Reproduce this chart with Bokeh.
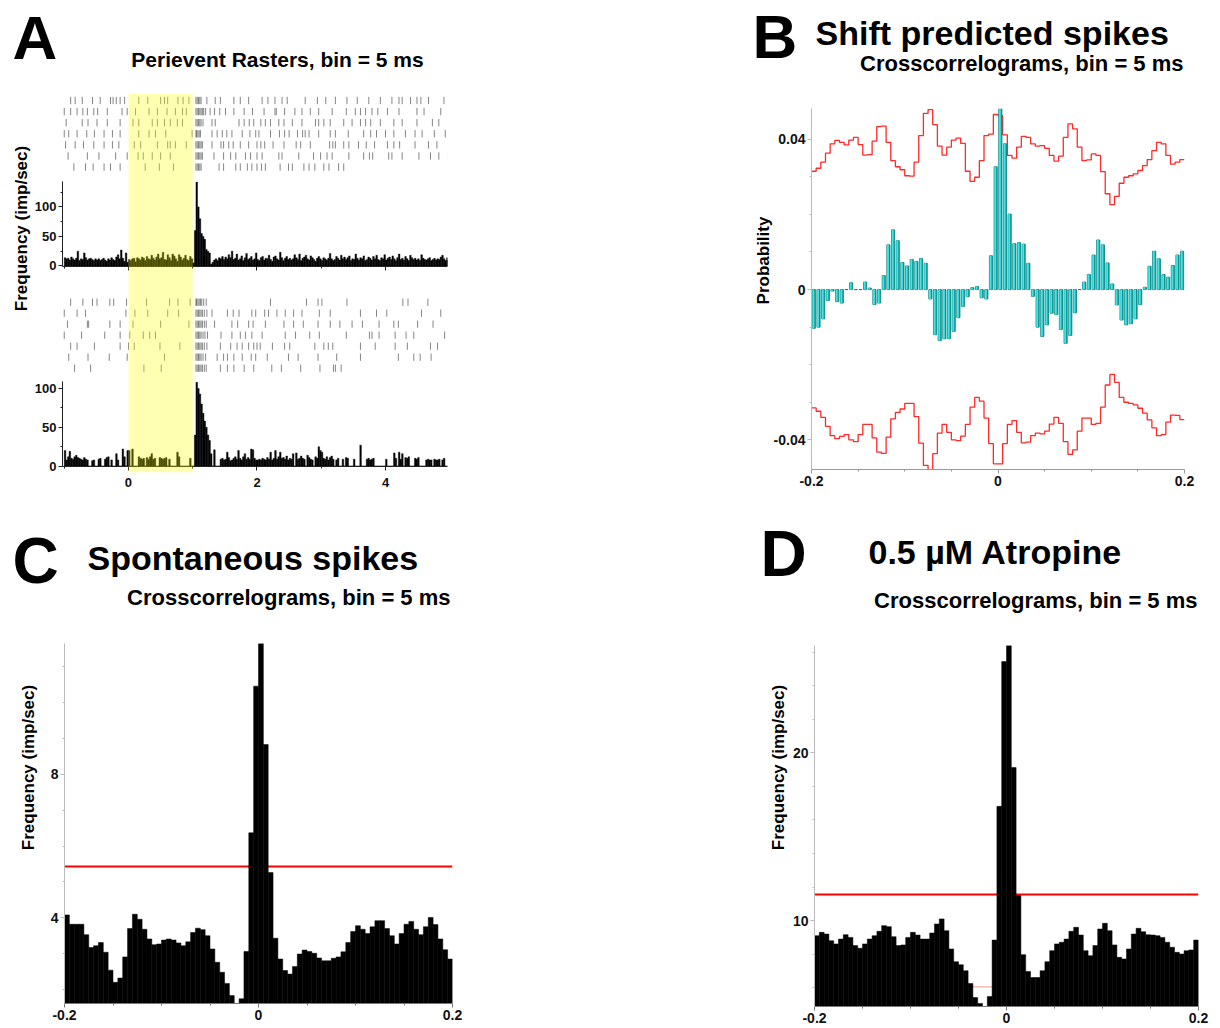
import math
from bokeh.plotting import figure
from bokeh.models import (Range1d, FixedTicker, GridBox, BoxAnnotation, Span,
                          NumeralTickFormatter)
from bokeh.embed import file_html
from bokeh.resources import INLINE
from bokeh.core.properties import value

# ---------------------------------------------------------------- data
# Panel A : perievent rasters (spike times, s) and rate histograms (imp/sec, 25 ms bins from -1 s)
stim_on, stim_off = 0.0, 1.0
hist_start, hist_bin = -1.0, 0.025

r1_trial1 = [-0.90, -0.83, -0.72, -0.56, -0.44, -0.28, -0.24, -0.19, -0.13, -0.06, 0.16, 0.30, 0.50, 0.56, 0.61, 0.77, 0.85, 0.94,
             1.05, 1.07, 1.09, 1.11, 1.13, 1.22, 1.35, 1.43, 1.64, 1.74, 1.87, 2.08, 2.17, 2.28, 2.39, 2.47, 2.75, 2.94, 3.07,
             3.22, 3.40, 3.56, 3.74, 3.92, 4.10, 4.21, 4.26, 4.39, 4.49, 4.55, 4.67, 4.91]
r1_trial2 = [-1.00, -0.90, -0.80, -0.71, -0.64, -0.54, -0.48, -0.33, -0.10, -0.02, 0.11, 0.32, 0.45, 0.60, 0.73, 0.84, 0.90,
             1.05, 1.07, 1.09, 1.11, 1.13, 1.15, 1.17, 1.20, 1.27, 1.34, 1.42, 1.51, 1.64, 1.80, 1.93, 2.11, 2.28, 2.30, 2.43,
             2.59, 2.70, 2.83, 2.96, 3.17, 3.39, 3.53, 3.61, 3.69, 3.79, 3.88, 4.03, 4.21, 4.49, 4.60, 4.86]
r1_trial3 = [-0.97, -0.72, -0.63, -0.49, -0.33, -0.13, 0.07, 0.16, 0.37, 0.45, 0.56, 0.65, 0.76, 0.84, 1.05, 1.07, 1.09, 1.11,
             1.13, 1.16, 1.30, 1.35, 1.72, 1.80, 1.88, 1.95, 2.06, 2.13, 2.21, 2.34, 2.42, 2.55, 2.70, 2.91, 2.96, 3.04, 3.14,
             3.35, 3.48, 3.61, 3.69, 3.77, 3.92, 4.13, 4.26, 4.49, 4.73, 4.83]
r1_trial4 = [-1.00, -0.93, -0.80, -0.65, -0.53, -0.38, -0.25, -0.13, 0.16, 0.32, 0.42, 0.58, 0.99, 1.05, 1.06, 1.08, 1.10, 1.12,
             1.30, 1.38, 1.46, 1.53, 1.61, 1.77, 1.89, 1.98, 2.03, 2.21, 2.35, 2.43, 2.50, 2.63, 2.71, 2.75, 2.81, 2.96, 3.14,
             3.22, 3.42, 3.66, 3.77, 3.86, 4.00, 4.13, 4.31, 4.46, 4.57, 4.76, 4.93]
r1_trial5 = [-0.98, -0.83, -0.70, -0.54, -0.38, -0.25, -0.15, 0.09, 0.19, 0.45, 0.61, 0.65, 0.73, 0.90, 1.05, 1.07, 1.09, 1.11,
             1.13, 1.15, 1.30, 1.44, 1.48, 1.56, 1.63, 1.74, 1.87, 2.00, 2.06, 2.12, 2.25, 2.42, 2.61, 2.68, 2.83, 3.13, 3.18,
             3.22, 3.35, 3.43, 3.58, 3.70, 3.83, 4.03, 4.13, 4.22, 4.46, 4.67, 4.80]
r1_trial6 = [-0.94, -0.64, -0.46, -0.20, -0.02, 0.15, 0.23, 0.37, 0.50, 0.65, 1.05, 1.07, 1.09, 1.11, 1.13, 1.15, 1.33, 1.48,
             1.59, 1.67, 1.82, 1.90, 2.00, 2.08, 2.34, 2.39, 2.65, 2.88, 2.99, 3.09, 3.17, 3.43, 3.66, 3.75, 3.80, 4.05, 4.10,
             4.26, 4.52, 4.70, 4.83, 4.98]
r1_trial7 = [-0.85, -0.67, -0.55, -0.38, -0.28, -0.13, 0.26, 0.48, 0.70, 1.05, 1.07, 1.09, 1.11, 1.13, 1.41, 1.48, 1.67, 1.74,
             1.85, 1.92, 2.00, 2.07, 2.13, 2.36, 2.49, 2.55, 2.73, 2.81, 2.90, 3.04, 3.12, 3.27, 3.35]

r2_trial1 = [-0.90, -0.71, -0.56, -0.49, -0.29, -0.23, -0.03, 0.28, 0.64, 0.77, 0.96, 1.05, 1.06, 1.08, 1.10, 1.12, 1.14, 1.17,
             1.21, 2.21, 2.77, 2.95, 3.01, 3.40, 4.27, 4.35, 4.66]
r2_trial2 = [-1.00, -0.80, -0.67, -0.04, 0.10, 0.30, 0.61, 0.78, 1.05, 1.07, 1.09, 1.11, 1.13, 1.15, 1.18, 1.22, 1.30, 1.54,
             1.63, 1.72, 1.92, 1.98, 2.12, 2.18, 2.31, 2.44, 2.57, 2.70, 2.97, 3.14, 3.61, 3.86, 4.02, 4.56, 4.86]
r2_trial3 = [-0.95, -0.64, -0.62, -0.29, -0.13, 0.07, 0.50, 0.94, 1.05, 1.07, 1.09, 1.11, 1.13, 1.15, 1.18, 1.21, 1.34, 1.61,
             1.70, 1.87, 1.94, 2.13, 2.42, 2.57, 2.72, 2.95, 3.14, 3.29, 3.48, 3.64, 3.90, 4.13, 4.20, 4.50, 4.74]
r2_trial4 = [-1.00, -0.73, -0.37, -0.13, 0.02, 0.23, 0.33, 0.42, 1.05, 1.07, 1.09, 1.11, 1.13, 1.16, 1.19, 1.23, 1.44, 1.61,
             1.74, 1.82, 1.92, 2.08, 2.44, 2.60, 2.82, 2.97, 3.39, 3.75, 3.79, 3.90, 4.15, 4.32, 4.44, 4.92]
r2_trial5 = [-0.90, -0.80, -0.53, -0.13, 0.00, 0.09, 0.49, 0.80, 1.05, 1.07, 1.09, 1.11, 1.13, 1.15, 1.18, 1.22, 1.43, 1.59,
             1.69, 1.77, 1.87, 1.95, 2.00, 2.05, 2.24, 2.43, 2.51, 2.90, 3.04, 3.11, 3.18, 3.61, 3.84, 4.15, 4.34, 4.70, 4.81]
r2_trial6 = [-0.93, -0.63, -0.30, -0.02, 0.56, 1.05, 1.07, 1.09, 1.11, 1.13, 1.16, 1.20, 1.38, 1.48, 1.54, 1.64, 1.77, 1.91,
             1.98, 2.16, 2.49, 2.64, 2.95, 3.24, 3.61, 4.20, 4.44, 4.54, 4.71]
r2_trial7 = [-0.84, -0.59, 0.24, 0.51, 1.05, 1.07, 1.09, 1.11, 1.13, 1.15, 1.18, 1.21, 1.43, 1.54, 1.64, 1.80, 1.95, 2.23,
             2.38, 2.68, 2.98, 3.19, 3.22, 3.31]

hist1_rate = [
    14, 12, 13, 10, 15, 12, 10, 13, 25, 9, 12, 11, 22, 14, 10, 12, 13, 11, 9, 12,
    10, 12, 9, 11, 13, 10, 8, 12, 10, 14, 11, 9, 15, 19, 12, 27, 13, 8, 22, 6,
    11, 9, 12, 13, 7, 14, 12, 10, 15, 13, 9, 16, 12, 11, 18, 13, 10, 15, 20, 12,
    14, 23, 11, 10, 19, 14, 9, 20, 17, 12, 8, 19, 15, 10, 13, 18, 11, 9, 16, 12,
    5, 60, 142, 100, 80, 55, 50, 45, 28, 25, 22, 3, 6, 10, 12, 9, 14, 12, 16, 11,
    15, 12, 19, 14, 25, 11, 13, 20, 10, 12, 17, 9, 14, 21, 11, 13, 16, 10, 12, 22,
    11, 9, 14, 16, 10, 13, 12, 18, 11, 8, 15, 17, 12, 10, 23, 14, 9, 13, 16, 11,
    13, 10, 12, 19, 14, 11, 20, 9, 13, 15, 18, 12, 10, 17, 14, 11, 8, 13, 16, 12,
    9, 14, 12, 10, 13, 21, 12, 9, 11, 16, 13, 10, 18, 12, 15, 11, 14, 17, 9, 12,
    11, 20, 13, 10, 14, 12, 17, 9, 11, 15, 13, 10, 16, 12, 18, 11, 9, 14, 12, 19,
    10, 13, 15, 11, 17, 12, 9, 14, 20, 11, 13, 10, 16, 12, 9, 18, 14, 11, 13, 10,
    12, 9, 19, 13, 11, 10, 12, 14, 9, 11, 13, 10, 12, 11, 15, 18, 12, 9, 14, 10]

hist2_rate = [
    20, 8, 12, 19, 10, 9, 12, 14, 11, 10, 9, 8, 11, 9, 8, 0, 0, 7, 8, 0,
    0, 9, 10, 0, 0, 9, 11, 12, 0, 8, 0, 0, 16, 8, 0, 0, 22, 12, 0, 20,
    20, 0, 22, 0, 0, 0, 12, 10, 9, 10, 0, 11, 9, 12, 16, 9, 10, 0, 0, 11,
    10, 9, 10, 11, 0, 9, 0, 0, 0, 0, 18, 12, 0, 0, 0, 0, 0, 0, 10, 0,
    0, 40, 108, 100, 93, 80, 68, 58, 50, 40, 33, 16, 0, 21, 0, 0, 0, 9, 10, 8,
    9, 18, 11, 7, 8, 10, 12, 9, 20, 10, 8, 12, 16, 9, 11, 9, 22, 21, 10, 8,
    8, 9, 8, 10, 9, 8, 11, 9, 18, 8, 10, 20, 9, 12, 18, 10, 11, 9, 13, 8,
    10, 9, 16, 0, 17, 9, 10, 13, 10, 9, 0, 14, 11, 9, 8, 0, 12, 10, 25, 20,
    18, 10, 9, 12, 8, 11, 13, 9, 0, 8, 10, 0, 0, 9, 0, 11, 10, 0, 0, 0,
    9, 0, 0, 0, 27, 0, 0, 0, 9, 10, 8, 9, 10, 0, 0, 0, 0, 0, 0, 0,
    9, 0, 0, 0, 0, 17, 10, 0, 18, 9, 16, 0, 11, 10, 12, 0, 0, 0, 10, 9,
    11, 0, 0, 0, 0, 8, 9, 8, 8, 0, 9, 8, 8, 9, 0, 8, 10, 0, 0, 0]

# Crosscorrelograms: 80 bins of 5 ms from -0.2 s
cc_start, cc_bin = -0.2, 0.005

b_shift_pred = [
    -0.0103, -0.0100, -0.0078, -0.0029, -0.0004, -0.0032, -0.0036, 0.0, 0.0018, 0.0,
    0.0, 0.0020, 0.0004, -0.0040, -0.0036, 0.0037, 0.0119, 0.0159, 0.0130, 0.0072,
    0.0063, 0.0080, 0.0075, 0.0083, 0.0070, -0.0025, -0.0120, -0.0136, -0.0131, -0.0131,
    -0.0111, -0.0075, -0.0045, -0.0019, 0.0005, 0.0008, -0.0022, -0.0025, 0.0090, 0.0327,
    0.0481, 0.0388, 0.0201, 0.0122, 0.0125, 0.0121, 0.0070, -0.0018, -0.0100, -0.0125,
    -0.0094, -0.0063, -0.0067, -0.0106, -0.0143, -0.0122, -0.0062, 0.0, 0.0020, 0.0040,
    0.0092, 0.0132, 0.0119, 0.0071, 0.0015, -0.0041, -0.0081, -0.0094, -0.0091, -0.0078,
    -0.0040, 0.0006, 0.0062, 0.0102, 0.0082, 0.0040, 0.0033, 0.0064, 0.0092, 0.0102]
b_upper = [
    0.0315, 0.0323, 0.0339, 0.0363, 0.0388, 0.0397, 0.0392, 0.0385, 0.0398, 0.0405,
    0.0386, 0.0358, 0.0359, 0.0395, 0.0434, 0.0435, 0.0392, 0.0343, 0.0327, 0.0319,
    0.0303, 0.0302, 0.0339, 0.0410, 0.0469, 0.0479, 0.0439, 0.0382, 0.0358, 0.0379,
    0.0398, 0.0403, 0.0389, 0.0315, 0.0288, 0.0299, 0.0343, 0.0410, 0.0414, 0.0466,
    0.0463, 0.0412, 0.0357, 0.0350, 0.0379, 0.0408, 0.0405, 0.0388, 0.0382, 0.0383,
    0.0376, 0.0357, 0.0342, 0.0355, 0.0405, 0.0441, 0.0428, 0.0379, 0.0343, 0.0345,
    0.0361, 0.0357, 0.0314, 0.0255, 0.0226, 0.0248, 0.0283, 0.0299, 0.0303, 0.0308,
    0.0317, 0.0330, 0.0346, 0.0370, 0.0392, 0.0388, 0.0357, 0.0334, 0.0339, 0.0346]
b_lower = [
    -0.0315, -0.0324, -0.0340, -0.0364, -0.0389, -0.0397, -0.0391, -0.0386, -0.0400, -0.0405,
    -0.0386, -0.0359, -0.0359, -0.0395, -0.0433, -0.0436, -0.0393, -0.0344, -0.0327, -0.0318,
    -0.0303, -0.0303, -0.0338, -0.0409, -0.0468, -0.0480, -0.0437, -0.0382, -0.0359, -0.0380,
    -0.0400, -0.0402, -0.0390, -0.0359, -0.0313, -0.0287, -0.0297, -0.0342, -0.0410, -0.0464,
    -0.0464, -0.0410, -0.0359, -0.0349, -0.0380, -0.0408, -0.0406, -0.0389, -0.0382, -0.0384,
    -0.0377, -0.0358, -0.0340, -0.0356, -0.0405, -0.0439, -0.0427, -0.0377, -0.0342, -0.0342,
    -0.0359, -0.0356, -0.0313, -0.0254, -0.0226, -0.0247, -0.0287, -0.0300, -0.0303, -0.0307,
    -0.0316, -0.0329, -0.0347, -0.0368, -0.0389, -0.0386, -0.0353, -0.0334, -0.0335, -0.0346]

c_spont = [
    4.08, 3.82, 3.82, 3.82, 3.53, 3.17, 3.22, 3.31, 3.04, 2.54,
    2.20, 2.32, 2.91, 3.70, 4.10, 3.96, 3.68, 3.41, 3.25, 3.27,
    3.38, 3.41, 3.38, 3.30, 3.22, 3.33, 3.59, 3.71, 3.67, 3.50,
    3.13, 2.76, 2.48, 2.17, 1.83, 1.40, 1.74, 3.06, 6.37, 10.46,
    12.10, 8.83, 5.26, 3.43, 2.85, 2.53, 2.43, 2.64, 2.99, 3.10,
    3.06, 3.01, 2.88, 2.80, 2.80, 2.87, 2.91, 3.05, 3.31, 3.62,
    3.78, 3.68, 3.56, 3.75, 3.92, 3.92, 3.70, 3.50, 3.27, 3.56,
    3.82, 3.90, 3.68, 3.53, 3.75, 4.01, 3.81, 3.41, 3.11, 2.85]
c_limit = 5.43

d_atropine = [
    9.10, 9.30, 9.20, 8.80, 8.61, 8.90, 9.16, 9.00, 8.51, 8.35,
    8.61, 8.90, 9.10, 9.36, 9.70, 9.64, 9.04, 8.51, 8.55, 9.00,
    9.30, 9.14, 8.90, 8.90, 9.26, 9.80, 10.10, 9.40, 8.31, 7.55,
    7.37, 7.01, 6.25, 5.42, 5.06, 4.50, 5.48, 8.84, 16.81, 25.44,
    27.30, 19.12, 11.49, 7.97, 6.97, 6.61, 6.61, 7.01, 7.55, 8.21,
    8.61, 8.71, 8.90, 9.36, 9.60, 9.14, 8.21, 7.91, 8.51, 9.50,
    9.84, 9.40, 8.55, 7.81, 7.71, 8.31, 9.20, 9.54, 9.34, 9.16,
    9.14, 9.10, 9.00, 8.71, 8.41, 8.11, 8.01, 8.21, 8.25, 8.84]
d_limit_hi = 11.55
d_limit_lo = 6.05

# ---------------------------------------------------------------- helpers
W, H = 1220, 1028
FONT = "Liberation Sans"


def panel(box, xr, yr, xaxis=True, yaxis=True):
    l, t, r, b = box
    p = figure(width=W, height=H, x_range=xr, y_range=yr,
               min_border_left=l, min_border_top=t,
               min_border_right=W - r, min_border_bottom=H - b,
               x_axis_location="below" if xaxis else None,
               y_axis_location="left" if yaxis else None,
               output_backend="svg", toolbar_location=None,
               background_fill_color=None, border_fill_color=None,
               outline_line_color=None, frame_align=False)
    p.grid.visible = False
    return p


def style(ax, line="#000000", size="13px"):
    ax.axis_line_color = line
    ax.axis_line_width = 1
    ax.major_tick_line_color = line
    ax.minor_tick_line_color = line
    ax.major_tick_in = 0
    ax.major_tick_out = 4
    ax.minor_tick_in = 0
    ax.minor_tick_out = 2
    ax.major_label_text_font = FONT
    ax.major_label_text_font_style = "bold"
    ax.major_label_text_font_size = size
    ax.major_label_text_color = "#111111"
    ax.major_label_standoff = 2


def centers(start, width, n):
    return [start + width * (i + 0.5) for i in range(n)]


figs = []

# ---------------------------------------------------------------- panel A
xa = Range1d(-1.027, 4.965)
a_ticks = FixedTicker(ticks=[0, 2, 4], minor_ticks=[-1, 1, 3, 5])


def raster(box, yr, trials):
    p = panel(box, xa, yr, xaxis=False, yaxis=False)
    xs, y0, y1 = [], [], []
    for row, trial in enumerate(trials, start=1):
        for t in trial:
            xs.append(t)
            y0.append(row - 0.33)
            y1.append(row + 0.33)
    p.segment(x0=xs, x1=xs, y0=y0, y1=y1, line_color="#333333", line_alpha=0.6, line_width=1)
    return p


def hist(box, yr, rates, labels):
    p = panel(box, xa, yr)
    xc = centers(hist_start, hist_bin, len(rates))
    p.vbar(x=xc, width=hist_bin, top=rates, bottom=0, fill_color="black", line_color="black", line_width=0.4)
    style(p.yaxis[0], "#222222")
    style(p.xaxis[0], "#222222")
    p.yaxis[0].ticker = FixedTicker(ticks=[0, 50, 100], minor_ticks=[25, 75, 125])
    p.xaxis[0].ticker = a_ticks
    p.xaxis[0].major_label_standoff = 7
    if not labels:
        p.xaxis[0].major_label_text_color = None
    return p


figs.append(raster((62, 92, 447, 181), Range1d(8.30, 0.28),
                   [r1_trial1, r1_trial2, r1_trial3, r1_trial4, r1_trial5, r1_trial6, r1_trial7]))
figs.append(hist((62, 181, 447, 266), Range1d(-1, 143), hist1_rate, False))
figs.append(raster((62, 266, 447, 381), Range1d(8.21, -2.245),
                   [r2_trial1, r2_trial2, r2_trial3, r2_trial4, r2_trial5, r2_trial6, r2_trial7]))
figs.append(hist((62, 381, 447, 466), Range1d(-0.5, 109), hist2_rate, True))

band = panel((62, 93, 447, 472), xa, Range1d(0, 1), xaxis=False, yaxis=False)
band.add_layout(BoxAnnotation(left=stim_on, right=stim_off, fill_color="#ffff00",
                              fill_alpha=0.3, line_color=None))
figs.append(band)

# ---------------------------------------------------------------- panel B
pB = panel((811, 108, 1184, 469), Range1d(-0.2, 0.2), Range1d(-0.0479, 0.0482))
xcB = centers(cc_start, cc_bin, len(b_shift_pred))
edges = [cc_start + cc_bin * i for i in range(len(b_upper) + 1)]
pB.step(x=edges, y=b_upper + [b_upper[-1]], mode="after", line_color="#ff2a2a", line_width=1.3)
pB.step(x=edges, y=b_lower + [b_lower[-1]], mode="after", line_color="#ff2a2a", line_width=1.3)
pB.vbar(x=xcB, width=cc_bin * 0.68, top=b_shift_pred, bottom=0,
        fill_color="#139a9a", line_color="#0e7a7a", line_width=0.8)
pB.vbar(x=[x - cc_bin * 0.1 for x in xcB], width=cc_bin * 0.4, top=b_shift_pred, bottom=0,
        fill_color="#3fe6e6", line_color=None)
style(pB.xaxis[0], "#999999", "14px")
style(pB.yaxis[0], "#bbbbbb", "14px")
pB.xaxis[0].ticker = FixedTicker(ticks=[-0.2, 0, 0.2], minor_ticks=[-0.15, -0.1, -0.05, 0.05, 0.1, 0.15])
pB.xaxis[0].formatter = NumeralTickFormatter(format="0.[0]")
pB.yaxis[0].ticker = FixedTicker(ticks=[-0.04, 0, 0.04], minor_ticks=[-0.03, -0.02, -0.01, 0.01, 0.02, 0.03])
pB.yaxis[0].formatter = NumeralTickFormatter(format="0.[00]")
figs.append(pB)

# ---------------------------------------------------------------- panels C and D


def ccg(box, yr, vals, limits, yticks, yminor):
    p = panel(box, Range1d(-0.2, 0.2), yr)
    for k, lim in enumerate(limits):
        p.add_layout(Span(location=lim, dimension="width",
                          line_color="#ff0000" if k == 0 else "#ff9090",
                          line_width=2 if k == 0 else 1, level="underlay"))
    p.vbar(x=centers(cc_start, cc_bin, len(vals)), width=cc_bin, top=vals, bottom=0,
           fill_color="black", line_color="black", line_width=0.5)
    style(p.xaxis[0], "#777777", "14px")
    style(p.yaxis[0], "#bbbbbb", "14px")
    p.xaxis[0].ticker = FixedTicker(ticks=[-0.2, 0, 0.2], minor_ticks=[-0.15, -0.1, -0.05, 0.05, 0.1, 0.15])
    p.xaxis[0].formatter = NumeralTickFormatter(format="0.[0]")
    p.yaxis[0].ticker = FixedTicker(ticks=yticks, minor_ticks=yminor)
    return p


figs.append(ccg((64, 643, 452, 1003), Range1d(1.61, 11.65), c_spont, [c_limit],
                [4, 8], [2, 3, 5, 6, 7, 9, 10, 11]))
figs.append(ccg((814, 645, 1198, 1006), Range1d(4.88, 26.4), d_atropine, [d_limit_hi, d_limit_lo],
                [10, 20], [6, 8, 12, 14, 16, 18, 22, 24, 26]))

# ---------------------------------------------------------------- titles / letters / axis labels
txt = panel((0, 0, W, H), Range1d(0, W), Range1d(H, 0), xaxis=False, yaxis=False)


def put(x, y, s, size, align="left", angle=0.0, baseline="alphabetic"):
    lift = 0.38 * size if baseline == "alphabetic" else 0.0
    txt.text(x=[x], y=[y - lift], text=[s], text_font=value(FONT), text_font_style="bold",
             text_font_size=f"{size}px", text_align=align, text_baseline=baseline,
             text_color="#000000", angle=angle)


put(12, 61, "A", 62)
put(752, 60, "B", 62)
put(12, 585, "C", 64)
put(760, 578, "D", 64)
put(277, 67, "Perievent Rasters, bin = 5 ms", 21, align="center")
put(815, 45, "Shift predicted spikes", 34)
put(1183, 71, "Crosscorrelograms, bin = 5 ms", 22, align="right")
put(87, 570, "Spontaneous spikes", 34)
put(450, 605, "Crosscorrelograms, bin = 5 ms", 22, align="right")
put(868, 564, "0.5 \u00b5M Atropine", 34)
put(1197, 608, "Crosscorrelograms, bin = 5 ms", 22, align="right")
put(21, 228, "Frequency (imp/sec)", 17, align="center", angle=math.pi / 2, baseline="middle")
put(763, 260, "Probability", 17, align="center", angle=math.pi / 2, baseline="middle")
put(28, 767, "Frequency (imp/sec)", 17, align="center", angle=math.pi / 2, baseline="middle")
put(778, 767, "Frequency (imp/sec)", 17, align="center", angle=math.pi / 2, baseline="middle")
figs.append(txt)

layout = GridBox(children=[(f, 0, 0) for f in figs])
open("out.html", "w").write(file_html(layout, INLINE, "Figure"))
